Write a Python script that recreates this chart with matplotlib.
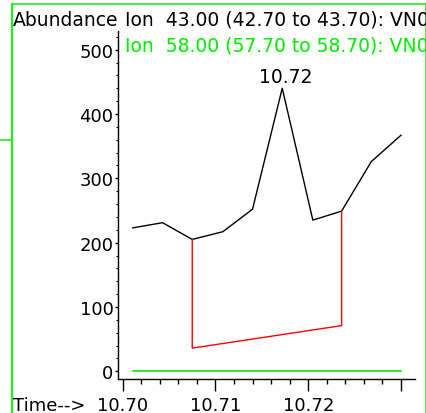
import matplotlib
matplotlib.use('Agg')
import matplotlib.pyplot as plt
from matplotlib.lines import Line2D
from matplotlib.ticker import MultipleLocator

# scan times (min) and abundances
times = [10.7011, 10.7043, 10.7075, 10.7108, 10.7140,
         10.7172, 10.7205, 10.7236, 10.7268, 10.7300]
ion43 = [223, 231, 205, 217, 252, 440, 235, 249, 326, 367]
ion58 = [0, 0, 0, 0, 0, 0, 0, 0, 0, 0]

# integration baseline drawn under the peak
integ_x = [10.7075, 10.7075, 10.7236, 10.7236]
integ_y = [205, 36, 71, 249]

peak_time = 10.7172
peak_value = 440
peak_label = '10.72'

xticks = [10.70, 10.71, 10.72, 10.73]
xticklabels = ['10.70', '10.71', '10.72', '']
yticks = [0, 100, 200, 300, 400, 500]

title43 = 'Ion  43.00 (42.70 to 43.70): VN0'
title58 = 'Ion  58.00 (57.70 to 58.70): VN0'

plt.rcParams['font.family'] = 'DejaVu Sans'
plt.rcParams['font.size'] = 13

W, H = 427, 414
fig = plt.figure(figsize=(W / 100, H / 100), dpi=100)

# axes placed in pixel terms
ax = fig.add_axes([118.3 / W, (H - 379.5) / H, (415 - 118.3) / W, (379.5 - 32) / H])

ax.plot(times, ion58, color='#00e000', lw=1.1)
ax.plot(times, ion43, color='black', lw=1.0)
ax.plot(integ_x, integ_y, color='red', lw=1.0)

ax.annotate(peak_label, (peak_time, peak_value), xytext=(2.5, 4.3),
            textcoords='offset points', ha='center', va='baseline', fontsize=13.5)

ax.set_xlim(10.69953, 10.73151)
ax.set_ylim(-11.2, 529)

ax.set_xticks(xticks)
ax.set_xticklabels(xticklabels)
ax.xaxis.set_minor_locator(MultipleLocator(0.002))
ax.set_yticks(yticks)
ax.yaxis.set_minor_locator(MultipleLocator(20))

ax.tick_params(axis='x', which='major', length=8.4, width=1.0, pad=4.0, labelsize=13)
ax.tick_params(axis='x', which='minor', length=3.6, width=1.0)
ax.tick_params(axis='y', which='major', length=2.5, width=1.0, pad=1.0, labelsize=13)
ax.tick_params(axis='y', which='minor', length=1.5, width=0.8)

for s in ['top', 'right']:
    ax.spines[s].set_visible(False)
for s in ['left', 'bottom']:
    ax.spines[s].set_linewidth(1.0)

# header texts
fig.text(13 / W, 1 - 26 / H, 'Abundance', ha='left', va='baseline', fontsize=13.5)
fig.text(125 / W, 1 - 26 / H, title43, ha='left', va='baseline', fontsize=13.5, color='black')
fig.text(125 / W, 1 - 51 / H, title58, ha='left', va='baseline', fontsize=13.5, color='#00ee00')
fig.text(13 / W, 1 - 411 / H, 'Time-->', ha='left', va='baseline', fontsize=13)

# green window frame
green = '#22ee22'
fx = lambda px: px / W
fy = lambda py: 1 - py / H
fig.add_artist(Line2D([fx(11.8), fx(11.8)], [fy(5), fy(414)], color=green, lw=1.6))
fig.add_artist(Line2D([fx(11.8), fx(426)], [fy(5), fy(5)], color=green, lw=1.2))
fig.add_artist(Line2D([fx(426), fx(426)], [fy(5), fy(414)], color=green, lw=1.2))
fig.add_artist(Line2D([fx(0), fx(11)], [fy(141), fy(141)], color=green, lw=1.2))

fig.savefig('out.png', dpi=100)
